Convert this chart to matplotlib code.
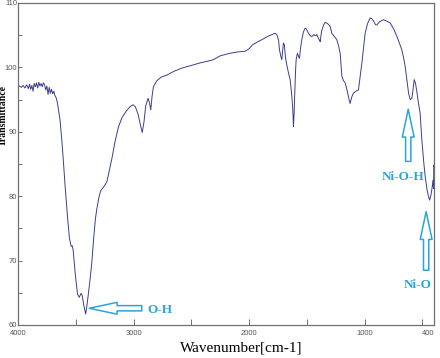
import numpy as np
import matplotlib
matplotlib.use("Agg")
import matplotlib.pyplot as plt

# FTIR spectrum (wavenumber in cm-1, transmittance)
wavenumber = [4000, 3985, 3970, 3955, 3940, 3925, 3910, 3900, 3890, 3880, 3870, 3860,
              3850, 3840, 3830, 3820, 3810, 3800, 3790, 3780, 3770, 3760, 3750, 3740,
              3730, 3720, 3710, 3700, 3690, 3680, 3670, 3660, 3650, 3636, 3620, 3608,
              3590, 3570, 3555, 3540, 3530, 3522, 3505, 3485, 3470, 3455, 3445, 3430,
              3414, 3400, 3380, 3362, 3345, 3330, 3318, 3300, 3285, 3265, 3245, 3230,
              3210, 3188, 3160, 3130, 3100, 3060, 3030, 3005, 2985, 2960, 2940, 2925,
              2910, 2895, 2875, 2862, 2851, 2840, 2828, 2800, 2760, 2713, 2650, 2580,
              2500, 2424, 2350, 2309, 2250, 2165, 2100, 2035, 2000, 1970, 1933, 1880,
              1830, 1800, 1790, 1775, 1760, 1745, 1737, 1725, 1717, 1710, 1703, 1695,
              1685, 1674, 1660, 1645, 1630, 1622, 1616, 1610, 1605, 1598, 1593, 1582,
              1572, 1564, 1555, 1544, 1530, 1515, 1505, 1495, 1486, 1470, 1457, 1440,
              1425, 1414, 1400, 1390, 1385, 1378, 1370, 1355, 1342, 1320, 1299, 1284,
              1262, 1241, 1225, 1212, 1205, 1197, 1185, 1169, 1150, 1135, 1126, 1110,
              1097, 1075, 1054, 1040, 1024, 1010, 996, 975, 952, 935, 923, 905,
              894, 870, 837, 810, 779, 750, 721, 700, 678, 660, 649, 635,
              620, 606, 591, 580, 571, 560, 548, 535, 520, 505, 490, 476,
              460, 447, 438, 426, 415, 409, 404, 402, 400]
transmittance = [97.0, 97.1, 96.9, 97.2, 96.8, 97.3, 96.7, 97.4, 96.6, 97.2, 96.3, 97.5,
                 97.0, 97.6, 96.8, 97.7, 97.1, 97.5, 97.0, 97.6, 97.3, 96.5, 97.1, 95.8,
                 96.9, 96.0, 96.6, 95.9, 96.3, 95.6, 95.3, 94.6, 93.5, 91.8, 88.5, 85.6,
                 81.0, 76.5, 73.5, 72.2, 72.3, 71.5, 68.0, 64.8, 64.3, 64.9, 64.6, 63.0,
                 61.7, 63.5, 66.5, 69.5, 73.5, 76.5, 78.0, 79.8, 80.8, 81.3, 81.8, 82.3,
                 84.0, 85.8, 88.5, 90.8, 92.2, 93.3, 93.9, 94.2, 93.9, 92.7, 91.0, 89.9,
                 91.5, 94.0, 95.2, 94.5, 93.4, 95.5, 97.0, 97.9, 98.5, 98.8, 99.4, 99.9,
                 100.3, 100.7, 101.0, 101.2, 101.8, 102.2, 102.4, 102.5, 102.9, 103.5, 103.9, 104.4,
                 104.9, 105.1, 105.2, 105.3, 105.1, 104.2, 102.7, 101.7, 101.2, 102.5, 103.8, 103.5,
                 101.5, 100.4, 99.2, 98.1, 95.5, 93.4, 90.8, 93.0, 96.0, 99.5, 101.2, 102.2,
                 101.7, 101.4, 103.0, 104.3, 105.5, 106.1, 106.0, 105.6, 105.3, 104.9, 104.8, 105.1,
                 104.9, 105.1, 104.5, 104.2, 104.0, 105.0, 105.8, 106.6, 107.0, 106.8, 106.4, 105.3,
                 104.8, 104.3, 103.3, 102.2, 100.5, 98.6, 98.0, 97.6, 96.3, 95.0, 94.4, 95.5,
                 96.0, 96.3, 96.5, 98.5, 100.7, 103.0, 105.3, 106.8, 107.7, 107.5, 107.2, 106.6,
                 106.6, 107.1, 107.4, 107.2, 106.9, 106.0, 104.8, 103.8, 102.7, 101.2, 100.1, 98.1,
                 96.0, 95.0, 95.2, 96.8, 98.1, 97.5, 96.2, 94.5, 92.9, 88.7, 85.5, 83.0,
                 81.0, 79.9, 79.4, 80.2, 81.5, 82.5, 81.2, 84.8, 84.6]

x_ticks = [4000, 3500, 3000, 2500, 2000, 1500, 1000, 500, 400]
x_labels = ["4000", "", "3000", "", "2000", "", "1000", "", "400"]
y_ticks = np.arange(60, 111, 5)
y_labels = ["60", "", "70", "", "80", "", "90", "", "100", "", "110"]

# band labels: (text, arrow tip, arrow tail, text position)
bands = [
    ("O-H", (3383, 62.6), (2929, 62.6), (2880, 62.3), "left"),
    ("Ni-O-H", (623, 93.5), (623, 85.4), (664, 83.0), "center"),
    ("Ni-O", (468, 77.6), (468, 68.5), (537, 66.2), "center"),
]

cyan = "#2aa5dc"
tick_font = "Liberation Sans"

fig = plt.figure(figsize=(4.4, 3.58), dpi=100)
ax = fig.add_axes([18 / 440, 1 - 325 / 358, 416 / 440, 322 / 358])

ax.plot(wavenumber, transmittance, color="#3d3d8f", lw=0.7)

ax.set_xlim(4000, 400)
ax.set_ylim(60, 110)
ax.set_xticks(x_ticks)
ax.set_xticklabels(x_labels, fontsize=5.5, color="#555555", family=tick_font)
ax.set_yticks(y_ticks)
ax.set_yticklabels(y_labels, fontsize=5.5, color="#555555", family=tick_font)
ax.tick_params(axis="x", direction="in", length=4, width=0.7, color="#707070", pad=3.5)
ax.tick_params(axis="y", direction="in", length=3, width=0.7, color="#707070", pad=0.6)
ax.get_xticklabels()[-1].set_horizontalalignment("right")
for s in ax.spines.values():
    s.set_color("#707070")
    s.set_linewidth(0.9)

for txt, tip, tail, pos, ha in bands:
    ax.annotate("", xy=tip, xytext=tail,
                arrowprops=dict(arrowstyle="simple,head_length=2.0,head_width=0.85,tail_width=0.38",
                                fc="white", ec=cyan, lw=1.1, mutation_scale=10,
                                shrinkA=0, shrinkB=0))
    ax.text(pos[0], pos[1], txt, color=cyan, fontsize=9.5, fontweight="bold",
            family="Liberation Serif", ha=ha, va="center")

fig.text(241 / 440, 1 - 348 / 358, "Wavenumber[cm-1]", fontsize=11,
         family="Liberation Serif", ha="center", va="center")
fig.text(3.6 / 440, 1 - 116 / 358, "Transmittance", fontsize=7, fontweight="bold",
         family="Liberation Serif", rotation=90, ha="center", va="center")

fig.savefig("out.png", dpi=100)
